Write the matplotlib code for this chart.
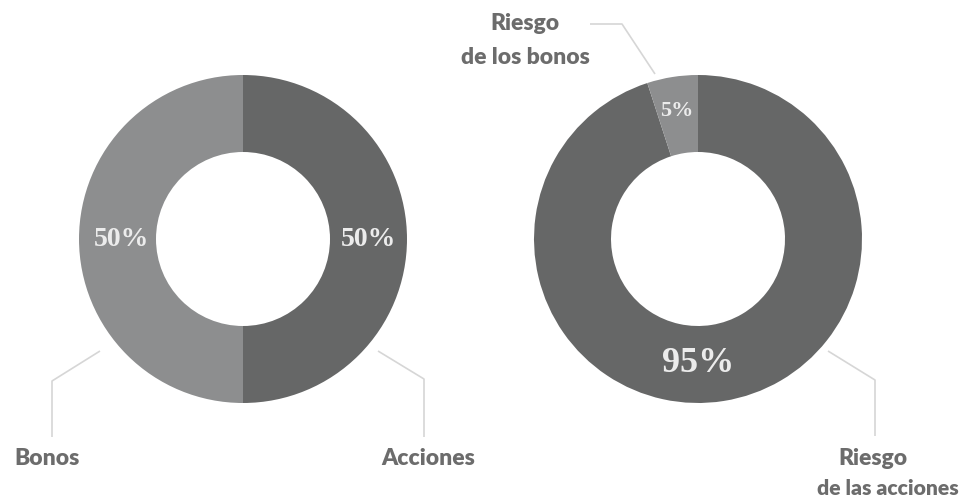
import numpy as np
import matplotlib
matplotlib.use('Agg')
import matplotlib.pyplot as plt

# Asset split and risk split
alloc_labels = ['Acciones', 'Bonos']
alloc_values = [50, 50]
risk_labels = [['Riesgo', 'de las acciones'], ['Riesgo', 'de los bonos']]
risk_values = [95, 5]

DARK = '#666767'
LIGHT = '#8d8e8f'
TEXT = '#6c6c6c'
LEADER = '#d6d6d6'
PCT = '#ececec'

W, H = 959, 502
R_OUT, R_IN = 164, 87


def py(y):
    # pixel-style y (from top) -> data y
    return H - y


fig = plt.figure(figsize=(W / 100, H / 100), dpi=100)
ax = fig.add_axes([0, 0, 1, 1])


def donut(cx, cy, values):
    wedges, _ = ax.pie(values, colors=[DARK, LIGHT], startangle=90,
                       counterclock=False, radius=R_OUT, center=(cx, py(cy)),
                       wedgeprops=dict(width=R_OUT - R_IN, linewidth=0),
                       frame=True)
    return wedges


donut(243, 240, alloc_values)
donut(698, 240, risk_values)
ax.set_xlim(0, W)
ax.set_ylim(0, H)
ax.set_aspect('equal')
ax.axis('off')

serif = dict(family='Liberation Serif', fontweight='bold', color=PCT,
             ha='center', va='center')
ax.text(121, py(240), f'{alloc_values[1]}%', fontsize=20, **serif)
ax.text(368, py(240), f'{alloc_values[0]}%', fontsize=20, **serif)
ax.text(677, py(111), f'{risk_values[1]}%', fontsize=16, **serif)
ax.text(698, py(364), f'{risk_values[0]}%', fontsize=26, **serif)


def leader(pts):
    xs = [p[0] for p in pts]
    ys = [py(p[1]) for p in pts]
    ax.plot(xs, ys, color=LEADER, lw=1.2, solid_capstyle='butt')


leader([(100, 352), (52, 382), (52, 438)])
leader([(378, 352), (424, 380), (424, 438)])
leader([(590, 25), (622, 25), (655, 75)])
leader([(828, 352), (875, 381), (875, 437)])

sans = dict(family='Lato', fontweight='heavy', color=TEXT,
            ha='center', va='center', fontsize=16.5)
ax.text(47, py(459), alloc_labels[1], **sans)
ax.text(428, py(459), alloc_labels[0], **sans)
ax.text(525, py(23), risk_labels[1][0], **sans)
ax.text(525, py(58), risk_labels[1][1], **sans)
ax.text(873, py(459), risk_labels[0][0], **sans)
ax.text(888, py(489), risk_labels[0][1],
        **{**sans, 'fontsize': 15.2})

fig.savefig('out.png', dpi=100, facecolor='white')
